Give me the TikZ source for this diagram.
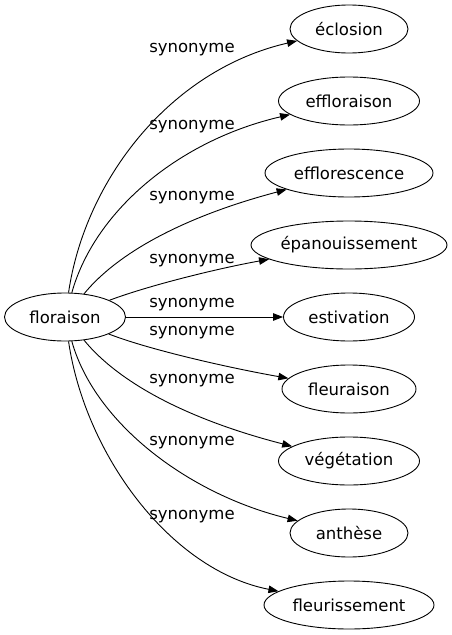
\documentclass[tikz,border=0pt]{standalone}
\usepackage{fontspec}
\setmainfont{DejaVu Sans}
\usetikzlibrary{shapes.geometric,arrows.meta}
\begin{document}
\begin{tikzpicture}[x=1pt,y=-1pt,
  word/.style={ellipse,draw,line width=0.9pt,inner sep=0pt,minimum height=48pt,font=\fontsize{16.5}{19}\selectfont},
  lab/.style={inner sep=0pt,font=\fontsize{16.5}{19}\selectfont},
  link/.style={line width=0.9pt,-{Triangle[length=10pt,width=7.5pt]}}]
\useasboundingbox (0,0) rectangle (452,635);
\node[word,minimum width=121pt] (fl) at (65,317) {floraison};
\node[word,minimum width=118pt] (n1) at (349,29) {éclosion};
\node[word,minimum width=141pt] (n2) at (349,101) {effloraison};
\node[word,minimum width=168pt] (n3) at (349,173) {efflorescence};
\node[word,minimum width=196pt] (n4) at (349,245) {épanouissement};
\node[word,minimum width=131pt] (n5) at (349,317) {estivation};
\node[word,minimum width=134pt] (n6) at (349,389) {fleuraison};
\node[word,minimum width=141pt] (n7) at (349,461) {végétation};
\node[word,minimum width=118pt] (n8) at (349,533) {anthèse};
\node[word,minimum width=170pt] (n9) at (349,605) {fleurissement};
\node[lab] (l1) at (192,50) {synonyme};
\node[lab] (l2) at (192,127) {synonyme};
\node[lab] (l3) at (192,198) {synonyme};
\node[lab] (l4) at (192,261) {synonyme};
\node[lab] (l5) at (192,305) {synonyme};
\node[lab] (l6) at (192,333) {synonyme};
\node[lab] (l7) at (192,381) {synonyme};
\node[lab] (l8) at (192,443) {synonyme};
\node[lab] (l9) at (192,517) {synonyme};
\draw[link] (fl) .. controls (85,180) and (170,70) .. (n1);
\draw[link] (fl) .. controls (95,210) and (180,140) .. (n2);
\draw[link] (fl) .. controls (120,250) and (190,215) .. (n3);
\draw[link] (fl) .. controls (150,285) and (220,268) .. (n4);
\draw[link] (fl) -- (n5);
\draw[link] (fl) .. controls (150,350) and (230,368) .. (n6);
\draw[link] (fl) .. controls (120,384) and (190,420) .. (n7);
\draw[link] (fl) .. controls (95,424) and (190,495) .. (n8);
\draw[link] (fl) .. controls (85,454) and (170,570) .. (n9);
\end{tikzpicture}
\end{document}
